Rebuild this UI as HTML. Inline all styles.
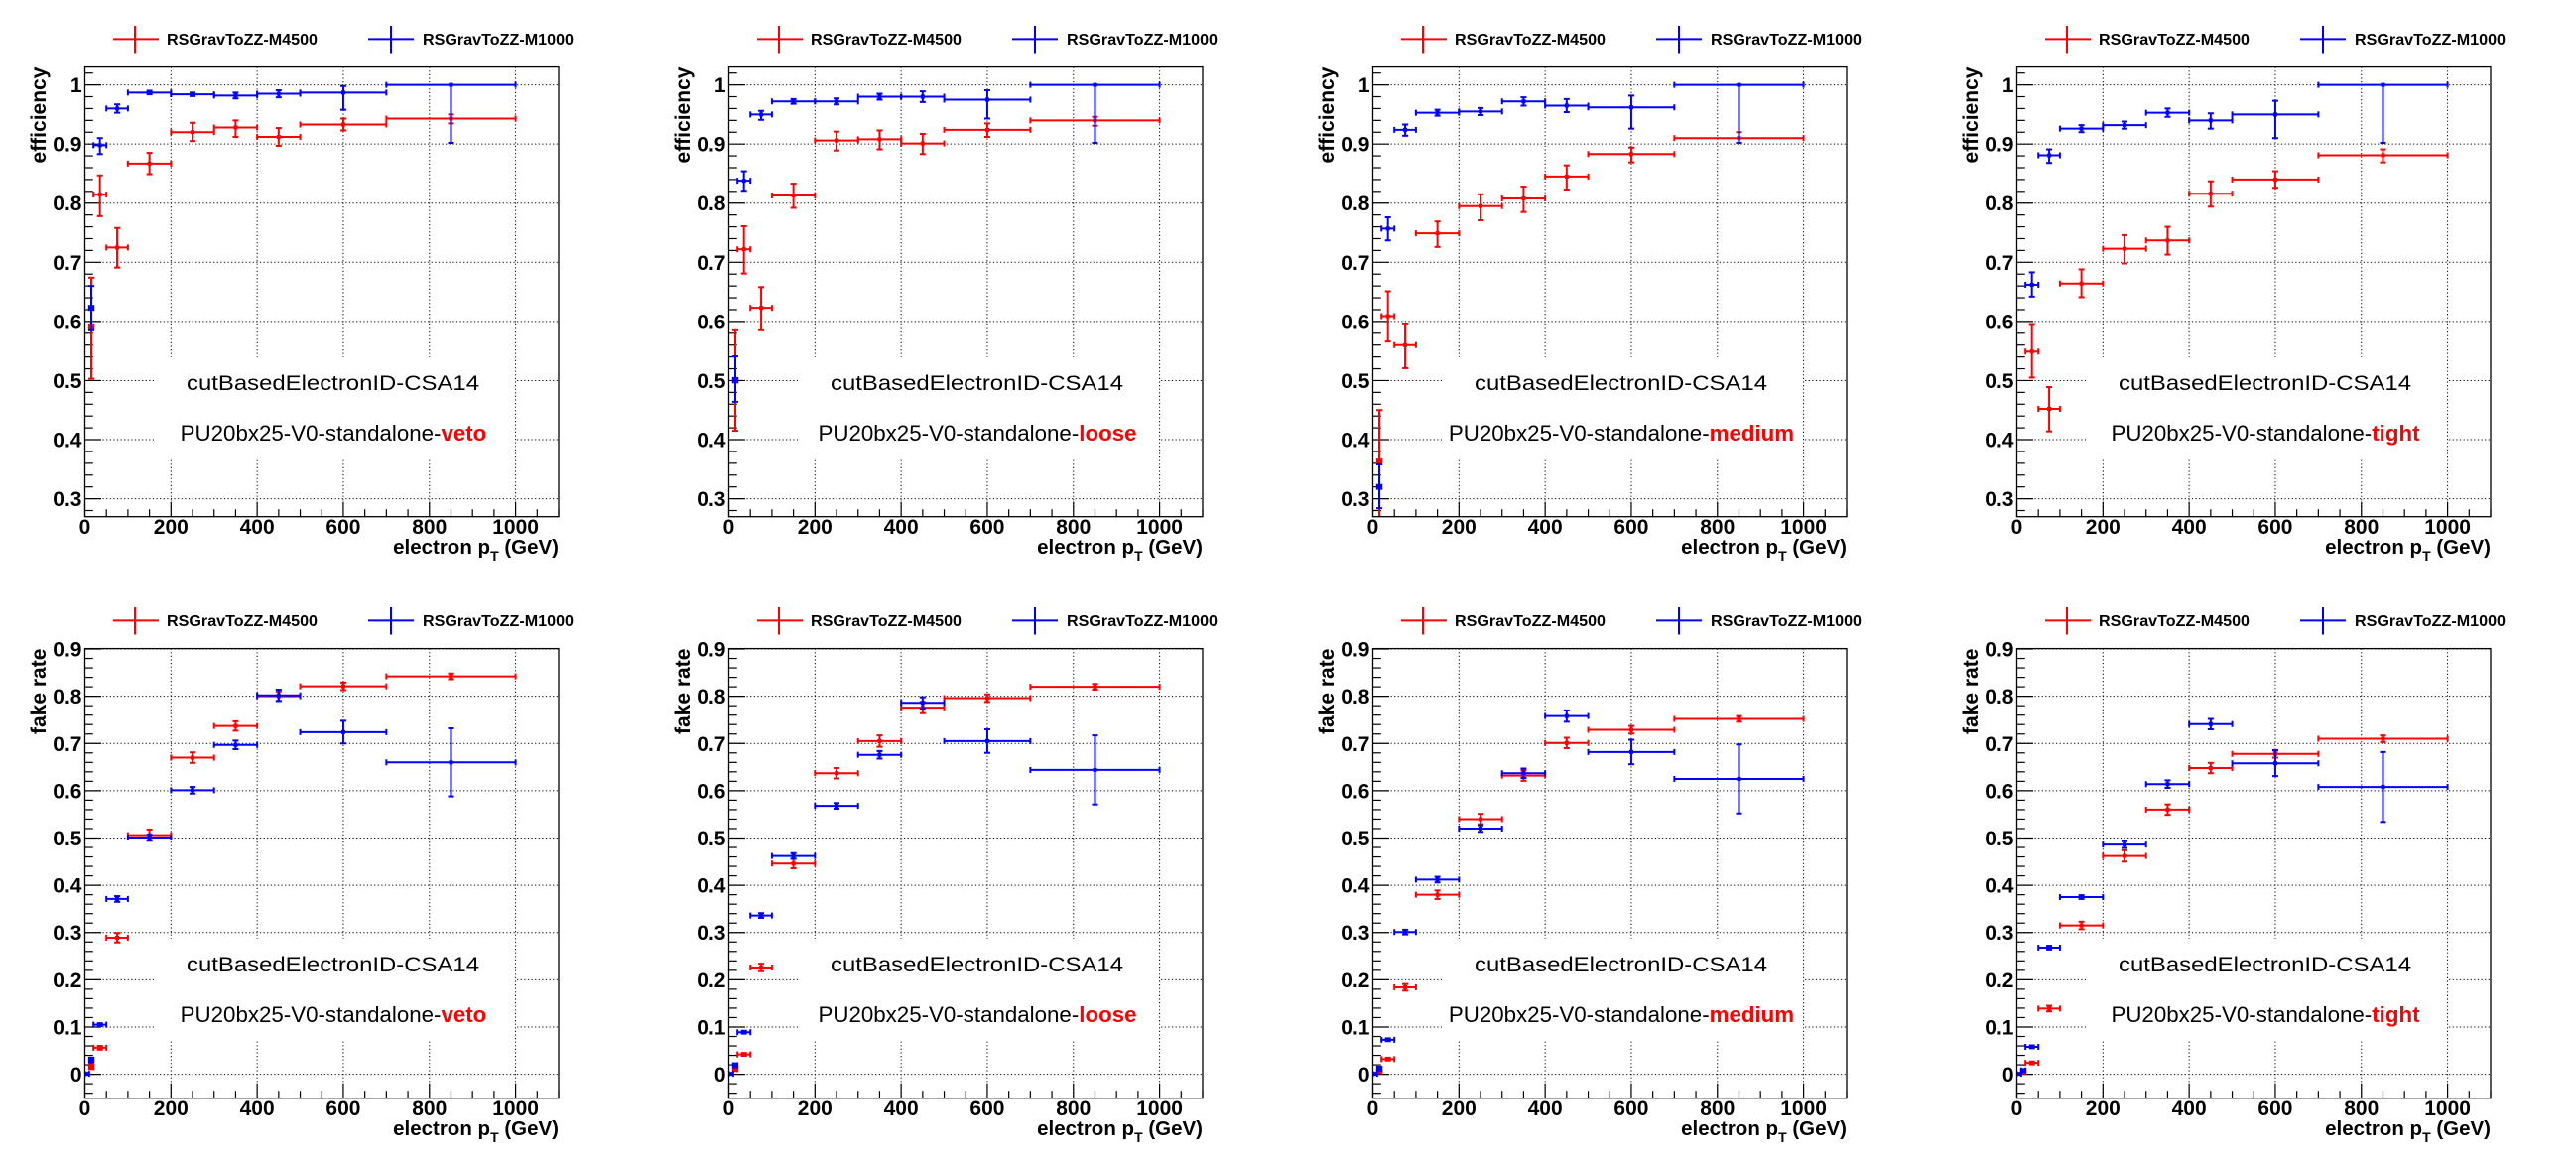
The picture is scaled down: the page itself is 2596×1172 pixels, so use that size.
<!DOCTYPE html>
<html><head><meta charset="utf-8">
<style>
html,body{margin:0;padding:0;background:#fff;}
svg{display:block;}
text{font-family:"Liberation Sans",Arial,sans-serif;}
</style></head>
<body>
<svg id="s" xmlns="http://www.w3.org/2000/svg" width="2596" height="1172" viewBox="0 0 2596 1172"></svg>
<script>
const svg=document.getElementById('s');
let out='';
const L=85.5,R=563,T=67.6,B=520.7;
const X=v=>L+v*(R-L)/1100;
const bins=[[10,20],[20,50],[50,100],[100,200],[200,300],[300,400],[400,500],[500,700],[700,1000]];
const eff={
veto:{r:[[0.590,0.674,0.503],[0.8145,0.847,0.778],[0.725,0.758,0.691],[0.867,0.885,0.849],[0.920,0.936,0.905],[0.928,0.940,0.912],[0.912,0.927,0.897],[0.933,0.943,0.923],[0.943,0.950,0.935]],
 b:[[0.623,0.66,0.585],[0.898,0.910,0.883],[0.960,0.967,0.953],[0.987,0.990,0.984],[0.984,0.987,0.981],[0.982,0.987,0.977],[0.985,0.991,0.979],[0.987,0.998,0.958],[1.0,1.0,0.902]]},
loose:{r:[[0.50,0.585,0.415],[0.722,0.761,0.681],[0.623,0.658,0.585],[0.813,0.833,0.792],[0.906,0.921,0.889],[0.908,0.923,0.891],[0.901,0.917,0.883],[0.924,0.935,0.912],[0.940,0.946,0.931]],
 b:[[0.501,0.541,0.464],[0.838,0.854,0.821],[0.950,0.956,0.941],[0.972,0.976,0.968],[0.972,0.977,0.967],[0.980,0.985,0.975],[0.980,0.989,0.971],[0.975,0.991,0.943],[1,1,0.902]]},
medium:{r:[[0.363,0.45,0.26],[0.609,0.651,0.566],[0.560,0.595,0.521],[0.749,0.769,0.726],[0.795,0.815,0.771],[0.808,0.828,0.785],[0.845,0.864,0.823],[0.883,0.894,0.869],[0.910,0.92,0.902]],
 b:[[0.320,0.358,0.284],[0.757,0.776,0.737],[0.924,0.933,0.914],[0.953,0.958,0.948],[0.955,0.961,0.949],[0.972,0.979,0.965],[0.965,0.976,0.954],[0.962,0.982,0.926],[1,1,0.902]]},
tight:{r:[null,[0.549,0.594,0.505],[0.452,0.489,0.414],[0.664,0.688,0.641],[0.723,0.746,0.698],[0.737,0.760,0.713],[0.816,0.837,0.794],[0.840,0.854,0.826],[0.881,0.891,0.869]],
 b:[null,[0.662,0.683,0.642],[0.881,0.891,0.868],[0.926,0.932,0.920],[0.932,0.938,0.926],[0.953,0.960,0.946],[0.940,0.952,0.926],[0.950,0.973,0.910],[1,1,0.902]]}
};
const fake={
veto:{r:[[0.016,0.005],[0.056,0.004],[0.289,0.01],[0.506,0.012],[0.670,0.011],[0.737,0.01],[0.80,0.01],[0.821,0.008],[0.842,0.006]],
 b:[[0.030,0.005],[0.105,0.003],[0.371,0.006],[0.501,0.006],[0.601,0.007],[0.697,0.009],[0.802,0.012],[0.724,0.024],[0.660,0.072]]},
loose:{r:[[0.011,0.004],[0.042,0.003],[0.226,0.008],[0.446,0.01],[0.637,0.011],[0.705,0.012],[0.776,0.012],[0.796,0.008],[0.820,0.006]],
 b:[[0.019,0.004],[0.089,0.003],[0.336,0.005],[0.462,0.006],[0.568,0.006],[0.676,0.008],[0.786,0.012],[0.705,0.025],[0.644,0.073]]},
medium:{r:[[0.006,0.003],[0.032,0.003],[0.184,0.007],[0.380,0.009],[0.540,0.011],[0.632,0.011],[0.701,0.011],[0.729,0.008],[0.752,0.006]],
 b:[[0.012,0.004],[0.073,0.003],[0.301,0.005],[0.412,0.006],[0.520,0.007],[0.637,0.01],[0.758,0.012],[0.682,0.026],[0.625,0.073]]},
tight:{r:[[0.005,0.003],[0.024,0.003],[0.139,0.006],[0.315,0.008],[0.462,0.012],[0.560,0.011],[0.648,0.011],[0.678,0.008],[0.710,0.007]],
 b:[[0.008,0.003],[0.058,0.003],[0.268,0.004],[0.375,0.004],[0.486,0.007],[0.614,0.008],[0.741,0.011],[0.658,0.027],[0.608,0.074]]}
};
const names=['veto','loose','medium','tight'];
let cid=0;
function ln(x1,y1,x2,y2,c,w,extra){return `<line x1="${x1.toFixed(2)}" y1="${y1.toFixed(2)}" x2="${x2.toFixed(2)}" y2="${y2.toFixed(2)}" stroke="${c}" stroke-width="${w}" ${extra||''}/>`;}
function point(Y,xlo,xhi,y,hi,lo,c){
  let s='';const xc=X((xlo+xhi)/2),yc=Y(y);
  s+=ln(X(xlo),yc,X(xhi),yc,c,2);
  s+=ln(X(xlo),yc-3,X(xlo),yc+3,c,2);
  s+=ln(X(xhi),yc-3,X(xhi),yc+3,c,2);
  const yh=Y(hi),yl=Y(lo);
  if(Math.abs(yl-yh)>1.5){
    s+=ln(xc,yh,xc,yl,c,2);
    s+=ln(xc-3,yh,xc+3,yh,c,2);
    s+=ln(xc-3,yl,xc+3,yl,c,2);
  }
  s+=`<rect x="${(xc-2).toFixed(2)}" y="${(yc-2).toFixed(2)}" width="4" height="4" fill="${c}"/>`;
  return s;
}
function panel(ox,oy,isEff,name){
  let s=`<g transform="translate(${ox},${oy})">`;
  const Y=isEff?(v=>85.6+(1-v)*595.7):(v=>496.6-v*476.2);
  const lo=isEff?0.27:-0.05, hi=isEff?1.03:0.9;
  s+=ln(114,39.4,160,39.4,'#ff0000',2)+ln(136,26,136,53.5,'#ff0000',2);
  s+=`<text x="168" y="45" font-size="15.5" font-weight="bold" textLength="152" lengthAdjust="spacingAndGlyphs">RSGravToZZ-M4500</text>`;
  s+=ln(371,39.4,417,39.4,'#0000ff',2)+ln(394,26,394,53.5,'#0000ff',2);
  s+=`<text x="426" y="45" font-size="15.5" font-weight="bold" textLength="152" lengthAdjust="spacingAndGlyphs">RSGravToZZ-M1000</text>`;
  const dash='stroke-dasharray="1.2,2.4"';
  for(let v=200;v<=1000;v+=200) s+=ln(X(v),T,X(v),B,'#000',1,dash);
  const majors=[];
  for(let k=Math.ceil(lo*10-1e-6);k<=Math.floor(hi*10+1e-6);k++) majors.push(k/10);
  majors.forEach(v=>{s+=ln(L,Y(v),R,Y(v),'#000',1,dash);});
  s+=`<rect x="155" y="360" width="364" height="103" fill="#fff"/>`;
  s+=`<text x="335.5" y="393" font-size="21.5" text-anchor="middle" textLength="295" lengthAdjust="spacingAndGlyphs">cutBasedElectronID-CSA14</text>`;
  s+=`<text x="336" y="444" font-size="22.3" text-anchor="middle">PU20bx25-V0-standalone-<tspan fill="#ff0000" font-weight="bold">${name}</tspan></text>`;
  for(let v=0;v<=1100;v+=50){const mj=v%200==0;s+=ln(X(v),B,X(v),B-(mj?15:7.5),'#000',1.2);}
  for(let k=Math.ceil(lo*50-1e-6);k<=Math.floor(hi*50+1e-6);k++){const v=k/50;const mj=(k%5==0);s+=ln(L,Y(v),L+(mj?16.5:8.3),Y(v),'#000',1.2);}
  majors.forEach(v=>{const t=(Math.abs(v)<1e-9)?'0':(Math.abs(v-1)<1e-9?'1':v.toFixed(1));s+=`<text x="82.5" y="${(Y(v)+7.5).toFixed(2)}" font-size="21" font-weight="bold" text-anchor="end">${t}</text>`;});
  for(let v=0;v<=1000;v+=200) s+=`<text x="${X(v).toFixed(2)}" y="538" font-size="21" font-weight="bold" text-anchor="middle">${v}</text>`;
  s+=`<text x="563" y="558" font-size="20.5" font-weight="bold" text-anchor="end">electron p<tspan font-size="14" dy="7">T</tspan><tspan dy="-7"> (GeV)</tspan></text>`;
  s+=`<text transform="translate(46,67.6) rotate(-90)" font-size="21" font-weight="bold" text-anchor="end">${isEff?'efficiency':'fake rate'}</text>`;
  cid++;
  s+=`<clipPath id="c${cid}"><rect x="${L}" y="${T}" width="${R-L}" height="${B-T}"/></clipPath><g clip-path="url(#c${cid})">`;
  if(isEff){
    const d=eff[name];
    d.r.forEach((p,i)=>{if(p)s+=point(Y,bins[i][0],bins[i][1],p[0],p[1],p[2],'#ff0000');});
    d.b.forEach((p,i)=>{if(p)s+=point(Y,bins[i][0],bins[i][1],p[0],p[1],p[2],'#0000ff');});
  } else {
    const d=fake[name];
    d.r.forEach((p,i)=>{s+=point(Y,bins[i][0],bins[i][1],p[0],p[0]+p[1],p[0]-p[1],'#ff0000');});
    s+=point(Y,0,10,0.001,0.001,0.001,'#0000ff');
    d.b.forEach((p,i)=>{s+=point(Y,bins[i][0],bins[i][1],p[0],p[0]+p[1],p[0]-p[1],'#0000ff');});
  }
  s+=`</g>`;
  s+=`<rect x="${L}" y="${T}" width="${R-L}" height="${B-T}" fill="none" stroke="#000" stroke-width="1.3"/>`;
  s+='</g>';
  return s;
}
for(let i=0;i<4;i++){out+=panel(649*i,0,true,names[i]);out+=panel(649*i,586,false,names[i]);}
svg.innerHTML=out;
</script>
</body></html>
